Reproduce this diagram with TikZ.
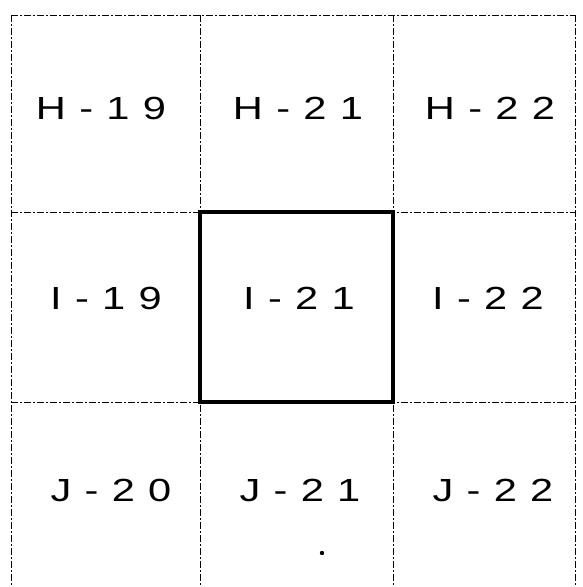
\documentclass[tikz,border=0pt]{standalone}
\usepackage{fontspec}
\usepackage{tikz}
\newfontfamily\gridfont[LetterSpace=32]{Liberation Sans}
\tikzset{
  gridline/.style={line width=0.9pt, dash pattern=on 7pt off 2pt on 2pt off 2pt},
  sheet/.style={font=\gridfont\fontsize{32}{32}\selectfont, xscale=1.3, transform shape, inner sep=0pt}
}

\begin{document}
\begin{tikzpicture}[x=1pt, y=-1pt]
		\useasboundingbox (0, 0) rectangle (582, 587);

		% 网格线
		\draw[gridline] (11, 15) -- (575, 15);
		\draw[gridline] (11, 212) -- (575, 212);
		\draw[gridline] (11, 402) -- (575, 402);
		\draw[gridline] (11, 15) -- (11, 587);
		\draw[gridline] (200, 15) -- (200, 587);
		\draw[gridline] (393, 15) -- (393, 587);
		\draw[gridline] (575, 15) -- (575, 587);

		% 中心图幅
		\draw[line width=3.4pt] (200, 212) rectangle (393, 402);

		% 图幅编号
		\node[sheet] (h19) at (101, 108) {H-19};
		\node[sheet] (h21) at (298, 108) {H-21};
		\node[sheet] (h22) at (490, 108) {H-22};

		\node[sheet] (i19) at (106, 298) {I-19};
		\node[sheet] (i21) at (299, 298) {I-21};
		\node[sheet] (i22) at (488, 298) {I-22};

		\node[sheet] (j20) at (111, 490) {J-20};
		\node[sheet] (j21) at (300, 490) {J-21};
		\node[sheet] (j22) at (493, 490) {J-22};

		% 点
		\fill (322, 553) circle (2.2pt);
	\end{tikzpicture}
\end{document}
